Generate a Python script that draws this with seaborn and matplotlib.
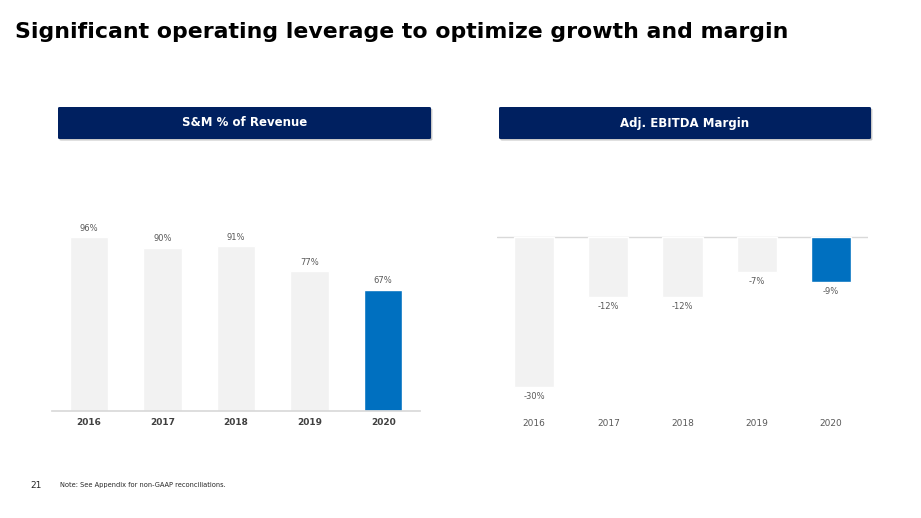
import matplotlib
matplotlib.use("Agg")
import matplotlib.pyplot as plt
from matplotlib.patches import FancyBboxPatch
import seaborn as sns
import pandas as pd

# Données
years = ["2016", "2017", "2018", "2019", "2020"]
sm_pct = [96, 90, 91, 77, 67]
ebitda_pct = [-30, -12, -12, -7, -9]

GRIS = "#F2F2F2"
BLEU = "#0070C0"
MARINE = "#002060"
palette = {y: (BLEU if y == "2020" else GRIS) for y in years}

sns.set_theme(style="white")
plt.rcParams["font.family"] = ["DejaVu Sans"]

fig = plt.figure(figsize=(9.21, 5.18), dpi=100)

# Titre
fig.text(15 / 921, 1 - 32 / 518, "Significant operating leverage to optimize growth and margin",
         fontsize=15.8, fontweight="bold", color="black", va="center", ha="left")

# Bandeaux
def bandeau(x0, x1, texte):
    y0, y1 = 107, 139
    w, h = (x1 - x0) / 921, (y1 - y0) / 518
    ombre = FancyBboxPatch((x0 / 921 + 0.0015, 1 - y1 / 518 - 0.003), w, h,
                           boxstyle="round,pad=0,rounding_size=0.002",
                           transform=fig.transFigure, facecolor="#C8C8C8",
                           edgecolor="none", zorder=1)
    boite = FancyBboxPatch((x0 / 921, 1 - y1 / 518), w, h,
                           boxstyle="round,pad=0,rounding_size=0.002",
                           transform=fig.transFigure, facecolor=MARINE,
                           edgecolor="none", zorder=2)
    fig.patches.extend([ombre, boite])
    fig.text((x0 + x1) / 2 / 921, 1 - (y0 + y1) / 2 / 518, texte, color="white",
             fontsize=8.5, fontweight="bold", ha="center", va="center", zorder=3)

bandeau(58, 431, "S&M % of Revenue")
bandeau(499, 871, "Adj. EBITDA Margin")

bas = 1 - 411 / 518
haut = 1 - 220 / 518

# Graphique gauche : S&M % du chiffre d'affaires
df_sm = pd.DataFrame({"annee": years, "val": sm_pct})
ax1 = fig.add_axes([52 / 921, bas, 368 / 921, haut - bas])
sns.barplot(data=df_sm, x="annee", y="val", hue="annee", palette=palette,
            width=0.52, legend=False, ax=ax1, saturation=1)
ax1.set_ylim(0, 105.4)
ax1.set_xlim(-0.5, 4.5)
for i, v in enumerate(sm_pct):
    ax1.annotate(f"{v}%", (i, v), xytext=(0, 6.5), textcoords="offset points",
                 ha="center", va="center", fontsize=6, color="#595959")
ax1.set_yticks([])
ax1.set_xlabel("")
ax1.set_ylabel("")
for s in ["top", "left", "right"]:
    ax1.spines[s].set_visible(False)
ax1.spines["bottom"].set_color("#D9D9D9")
ax1.tick_params(axis="x", length=0, pad=5, labelsize=6.5, labelcolor="#404040")
for t in ax1.get_xticklabels():
    t.set_fontweight("bold")
ax1.patch.set_alpha(0)

# Graphique droit : marge EBITDA ajustée
df_eb = pd.DataFrame({"annee": years, "val": ebitda_pct})
ax2 = fig.add_axes([497 / 921, bas, 371 / 921, haut - bas])
sns.barplot(data=df_eb, x="annee", y="val", hue="annee", palette=palette,
            width=0.54, legend=False, ax=ax2, saturation=1)
ax2.set_ylim(-34.8, 3.4)
ax2.set_xlim(-0.5, 4.5)
ax2.axhline(0, color="#D9D9D9", lw=1, zorder=0)
for i, v in enumerate(ebitda_pct):
    ax2.annotate(f"{v}%", (i, v), xytext=(0, -7), textcoords="offset points",
                 ha="center", va="center", fontsize=6, color="#595959")
ax2.set_yticks([])
ax2.set_xlabel("")
ax2.set_ylabel("")
for s in ["top", "left", "right", "bottom"]:
    ax2.spines[s].set_visible(False)
ax2.tick_params(axis="x", length=0, pad=6, labelsize=6.5, labelcolor="#595959")
ax2.patch.set_alpha(0)

# Pied de page
fig.text(30 / 921, 1 - 485 / 518, "21", fontsize=6.5, color="#262626", va="center")
fig.text(60 / 921, 1 - 485 / 518, "Note: See Appendix for non-GAAP reconciliations.",
         fontsize=4.8, color="#262626", va="center")

fig.savefig("out.png", dpi=100)
